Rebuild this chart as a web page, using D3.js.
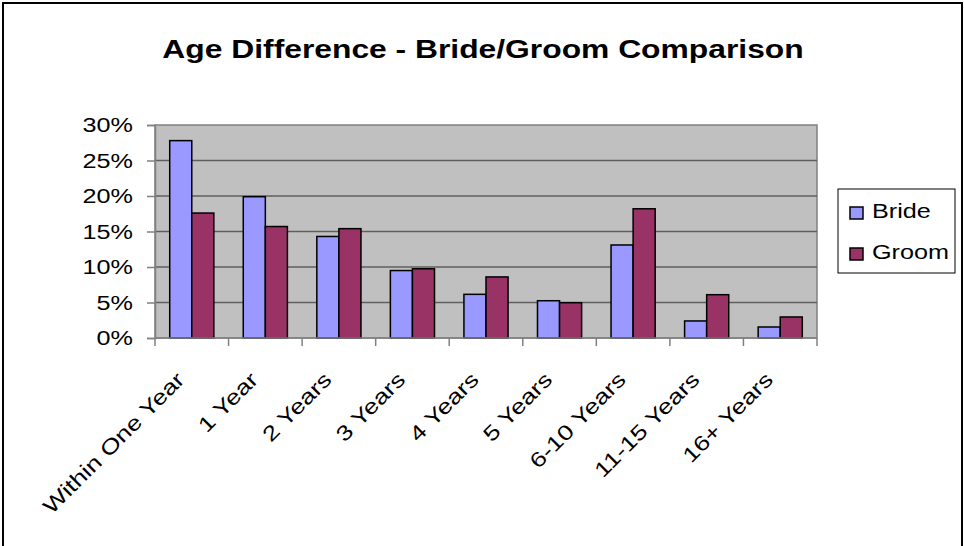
<!DOCTYPE html>
<html><head><meta charset="utf-8">
<script src="https://cdn.jsdelivr.net/npm/d3@7"></script>
<style>body{margin:0;background:#fff;} svg{display:block;}</style>
</head><body>
<svg id="chart" width="964" height="546"></svg>
<script>
const categories = ["Within One Year","1 Year","2 Years","3 Years","4 Years","5 Years","6-10 Years","11-15 Years","16+ Years"];
const seriesNames = ["Bride","Groom"];
const bride = [27.8,19.9,14.3,9.5,6.15,5.25,13.1,2.4,1.55];
const groom = [17.6,15.7,15.4,9.75,8.6,4.97,18.2,6.1,2.96];
const yTicks = [0,5,10,15,20,25,30];
const colors = ["#9999ff","#993366"];

const svg = d3.select("#chart");
const font = "'Liberation Sans', Arial, sans-serif";
const SX = 1.2; // wide glyph spacing seen in the reference

// frame
svg.append("rect").attr("x",3).attr("y",3).attr("width",959).attr("height",560)
  .attr("fill","none").attr("stroke","#000").attr("stroke-width",2);

const L=155, R=817, T=125, B=338;
const x = d3.scaleBand().domain(categories).range([L,R]).paddingInner(0.4).paddingOuter(0.2);
const x1 = d3.scaleBand().domain(seriesNames).range([0,x.bandwidth()]);
const y = d3.scaleLinear().domain([0,30]).range([B,T]);

// plot bg
svg.append("rect").attr("x",L).attr("y",T).attr("width",R-L).attr("height",B-T)
  .attr("fill","#c0c0c0").attr("stroke","#808080").attr("stroke-width",1.5);

// gridlines
svg.append("g").selectAll("line").data(yTicks.filter(d=>d>0&&d<30)).join("line")
  .attr("x1",L).attr("x2",R).attr("y1",d=>y(d)).attr("y2",d=>y(d))
  .attr("stroke","#5f5f5f").attr("stroke-width",1.6);

// bars
const data = categories.map((c,i)=>({c, vals:[bride[i],groom[i]]}));
const g = svg.append("g").selectAll("g").data(data).join("g")
  .attr("transform",d=>`translate(${x(d.c)},0)`);
g.selectAll("rect").data(d=>d.vals.map((v,j)=>({s:seriesNames[j],v,j}))).join("rect")
  .attr("x",d=>x1(d.s)).attr("width",x1.bandwidth())
  .attr("y",d=>y(d.v)).attr("height",d=>B-y(d.v))
  .attr("fill",d=>colors[d.j]).attr("stroke","#000").attr("stroke-width",1.5);

// y axis
const yAxis = d3.axisLeft(y).tickValues(yTicks).tickSize(8).tickPadding(8).tickFormat(d=>d+"%");
const ya = svg.append("g").attr("transform",`translate(${L},0)`).call(yAxis);
ya.select(".domain").attr("stroke","#808080").attr("stroke-width",1.5);
ya.selectAll(".tick line").attr("stroke","#808080").attr("stroke-width",1.5);
ya.selectAll("text").attr("font-family",font).attr("font-size",21).attr("fill","#000")
  .attr("x",-22/SX).attr("transform",`scale(${SX},1)`);

// x axis line and ticks at category boundaries
const bounds = d3.range(categories.length+1).map(i=>L+i*(R-L)/categories.length);
svg.append("line").attr("x1",L).attr("x2",R).attr("y1",B).attr("y2",B).attr("stroke","#808080").attr("stroke-width",1.5);
svg.append("g").selectAll("line").data(bounds).join("line")
  .attr("x1",d=>d).attr("x2",d=>d).attr("y1",B).attr("y2",B+8)
  .attr("stroke","#808080").attr("stroke-width",1.5);

// x labels
svg.append("g").selectAll("text").data(categories).join("text")
  .attr("transform",d=>`translate(${x(d)+x.bandwidth()/2-6},${B+43}) rotate(-45) scale(1.25,1)`)
  .attr("text-anchor","end").attr("font-family",font).attr("font-size",21).attr("fill","#000")
  .text(d=>d);

// title
svg.append("text").attr("transform",`translate(483,58) scale(${SX},1)`).attr("text-anchor","middle")
  .attr("font-family",font).attr("font-weight","bold").attr("font-size",26.5).text("Age Difference - Bride/Groom Comparison");

// legend
const lg = svg.append("g");
lg.append("rect").attr("x",838).attr("y",189).attr("width",117).attr("height",84)
  .attr("fill","#fff").attr("stroke","#000").attr("stroke-width",1);
seriesNames.forEach((s,i)=>{
  const yy = 218 + i*41;
  lg.append("rect").attr("x",850).attr("y",yy-11).attr("width",13).attr("height",12)
    .attr("fill",colors[i]).attr("stroke","#000").attr("stroke-width",1.5);
  lg.append("text").attr("transform",`translate(872,${yy}) scale(${SX},1)`)
    .attr("font-family",font).attr("font-size",21).text(s);
});
</script>
</body></html>
